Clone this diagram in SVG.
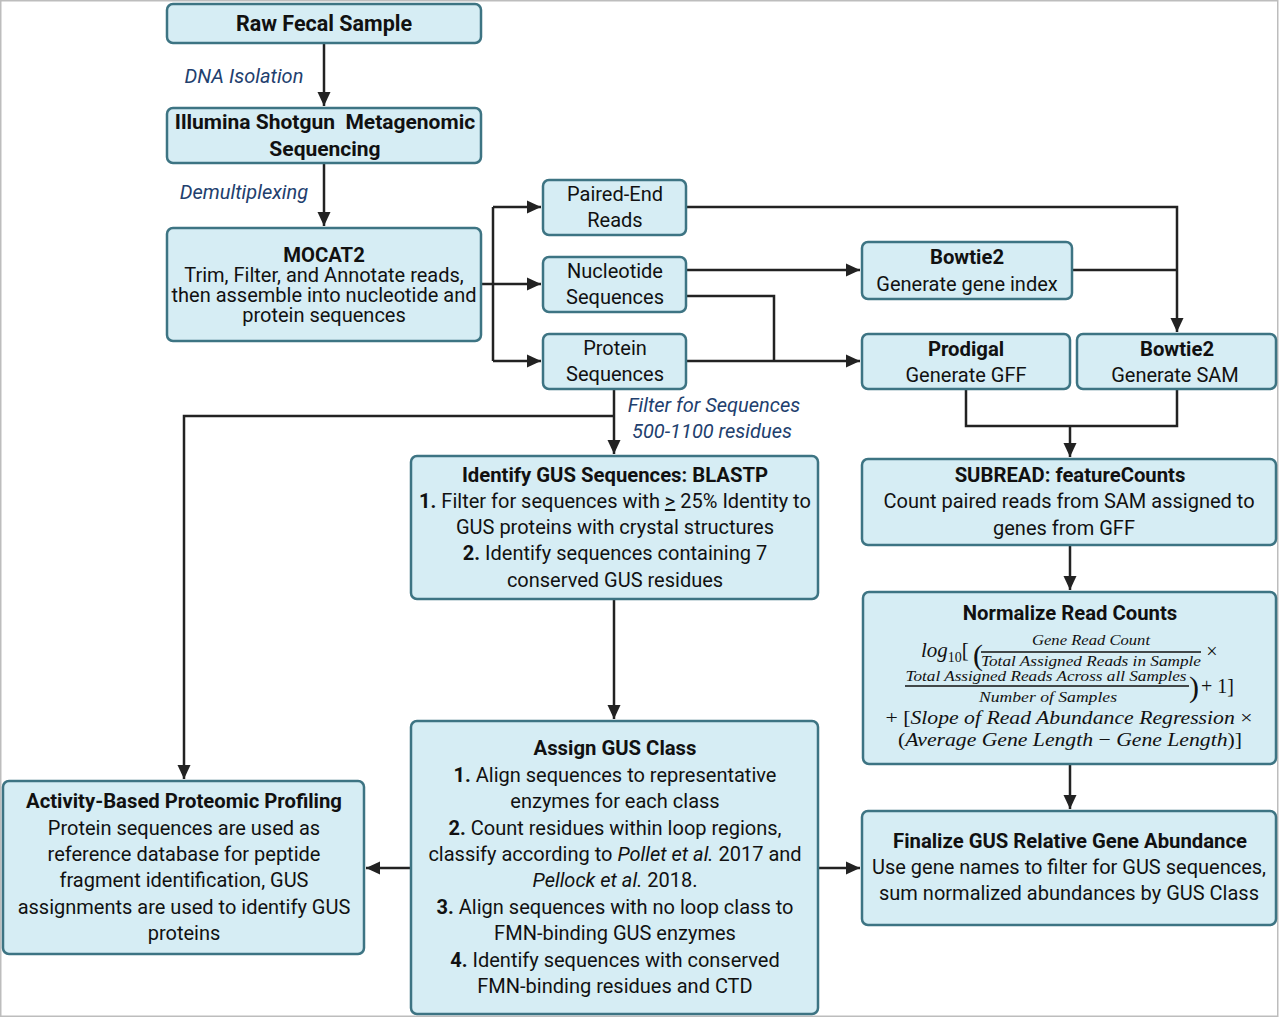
<svg xmlns="http://www.w3.org/2000/svg" width="1280" height="1018" viewBox="0 0 1280 1018">
<defs>
<marker id="ah" markerUnits="userSpaceOnUse" markerWidth="14" markerHeight="14" viewBox="0 0 14 14" refX="14" refY="7" orient="auto">
<path d="M0,0.5 L14,7 L0,13.5 z" fill="#222"/>
</marker>
<style>
.box{fill:#d6edf4;stroke:#3d7483;stroke-width:2.5}
.t{font-family:Roboto,"Liberation Sans",sans-serif;font-size:20px;fill:#111;text-anchor:middle}
.b{font-weight:bold}
.h{font-weight:bold;font-size:20.3px}
.h2{font-weight:bold;font-size:21px}
.lbl{font-family:Roboto,"Liberation Sans",sans-serif;font-size:20px;font-style:italic;fill:#22406e;text-anchor:middle}
.m{font-family:"Liberation Serif","DejaVu Serif",serif;fill:#111}
.i{font-style:italic}
.mid{text-anchor:middle}
.st{text-anchor:start}
.c{fill:none;stroke:#222;stroke-width:2.5}
</style>
</defs>
<rect x="0" y="0" width="1280" height="1018" fill="#fff"/>
<rect x="0.75" y="0.75" width="1277" height="1015.5" fill="none" stroke="#bdbdbd" stroke-width="1.5"/>

<g id="connectors">
<path class="c" d="M324,43 V106" marker-end="url(#ah)"/>
<path class="c" d="M324,163 V226" marker-end="url(#ah)"/>
<path class="c" d="M481,284 H493"/>
<path class="c" d="M493,207 V361"/>
<path class="c" d="M493,207 H541" marker-end="url(#ah)"/>
<path class="c" d="M493,284 H541" marker-end="url(#ah)"/>
<path class="c" d="M493,361 H541" marker-end="url(#ah)"/>
<path class="c" d="M686,207 H1177 V332" marker-end="url(#ah)"/>
<path class="c" d="M686,270 H860" marker-end="url(#ah)"/>
<path class="c" d="M686,296 H774 V361"/>
<path class="c" d="M686,361 H860" marker-end="url(#ah)"/>
<path class="c" d="M1072,270 H1177"/>
<path class="c" d="M966,389 V426 H1177 V389"/>
<path class="c" d="M1070,426 V457" marker-end="url(#ah)"/>
<path class="c" d="M614,389 V454" marker-end="url(#ah)"/>
<path class="c" d="M614,416 H184 V779" marker-end="url(#ah)"/>
<path class="c" d="M614,599 V719" marker-end="url(#ah)"/>
<path class="c" d="M411,868 H366" marker-end="url(#ah)"/>
<path class="c" d="M818,868 H860" marker-end="url(#ah)"/>
<path class="c" d="M1070,545 V590" marker-end="url(#ah)"/>
<path class="c" d="M1070,764 V809" marker-end="url(#ah)"/>
<text class="lbl" x="244" y="83">DNA Isolation</text>
<text class="lbl" x="244" y="199">Demultiplexing</text>
<text class="lbl" x="714" y="412">Filter for Sequences</text>
<text class="lbl" x="712" y="438">500-1100 residues</text>
</g>

<g id="raw">
<rect class="box" x="167" y="4" width="314" height="39" rx="6"/>
<text class="t h2" x="324" y="31" style="font-size:21.5px">Raw Fecal Sample</text>
</g>

<g id="illumina">
<rect class="box" x="167" y="108" width="314" height="55" rx="6"/>
<text class="t h2" x="325" y="129" xml:space="preserve">Illumina Shotgun  Metagenomic</text>
<text class="t h2" x="325" y="156">Sequencing</text>
</g>

<g id="mocat2">
<rect class="box" x="167" y="228" width="314" height="113" rx="6"/>
<text class="t h" x="324" y="262">MOCAT2</text>
<text class="t" x="324" y="282">Trim, Filter, and Annotate reads,</text>
<text class="t" x="324" y="302">then assemble into nucleotide and</text>
<text class="t" x="324" y="322">protein sequences</text>
</g>

<g id="paired">
<rect class="box" x="543" y="180" width="143" height="55" rx="6"/>
<text class="t" x="615" y="201">Paired-End</text>
<text class="t" x="615" y="227">Reads</text>
</g>

<g id="nucleotide">
<rect class="box" x="543" y="257" width="143" height="55" rx="6"/>
<text class="t" x="615" y="278">Nucleotide</text>
<text class="t" x="615" y="304">Sequences</text>
</g>

<g id="protein">
<rect class="box" x="543" y="334" width="143" height="55" rx="6"/>
<text class="t" x="615" y="355">Protein</text>
<text class="t" x="615" y="381">Sequences</text>
</g>

<g id="bowtie-index">
<rect class="box" x="862" y="242" width="210" height="57" rx="6"/>
<text class="t h" x="967" y="264">Bowtie2</text>
<text class="t" x="967" y="291">Generate gene index</text>
</g>

<g id="prodigal">
<rect class="box" x="862" y="334" width="208" height="55" rx="6"/>
<text class="t h" x="966" y="356">Prodigal</text>
<text class="t" x="966" y="382">Generate GFF</text>
</g>

<g id="bowtie-sam">
<rect class="box" x="1077" y="334" width="199" height="55" rx="6"/>
<text class="t h" x="1177" y="356">Bowtie2</text>
<text class="t" x="1175" y="382">Generate SAM</text>
</g>

<g id="subread">
<rect class="box" x="862" y="459" width="414" height="86" rx="6"/>
<text class="t h" x="1070" y="482">SUBREAD: featureCounts</text>
<text class="t" x="1069" y="508">Count paired reads from SAM assigned to</text>
<text class="t" x="1064" y="535">genes from GFF</text>
</g>

<g id="normalize">
<rect class="box" x="863" y="592" width="413" height="172" rx="6"/>
<text class="t h" x="1070" y="620">Normalize Read Counts</text>
<text class="m st" x="921" y="657" style="font-size:21px"><tspan class="i">log</tspan><tspan style="font-size:14px" dy="5">10</tspan><tspan dy="-5">[</tspan></text>
<text class="m st" x="973" y="665" style="font-size:30px">(</text>
<text class="m i mid" x="1091" y="645" style="font-size:15px" textLength="118" lengthAdjust="spacingAndGlyphs">Gene Read Count</text>
<line x1="981" y1="652" x2="1201" y2="652" stroke="#111" stroke-width="1.5"/>
<text class="m i mid" x="1091" y="666" style="font-size:15px" textLength="220" lengthAdjust="spacingAndGlyphs">Total Assigned Reads in Sample</text>
<text class="m mid" x="1212" y="658" style="font-size:20px">×</text>
<text class="m i mid" x="1046" y="681" style="font-size:15px" textLength="281" lengthAdjust="spacingAndGlyphs">Total Assigned Reads Across all Samples</text>
<line x1="905" y1="686" x2="1189" y2="686" stroke="#111" stroke-width="1.5"/>
<text class="m i mid" x="1048" y="702" style="font-size:15px" textLength="138" lengthAdjust="spacingAndGlyphs">Number of Samples</text>
<text class="m st" x="1189" y="697" style="font-size:30px">)</text>
<text class="m st" x="1201" y="693" style="font-size:20px">+ 1]</text>
<text class="m i mid" x="1069" y="724" style="font-size:19px" textLength="367" lengthAdjust="spacingAndGlyphs"><tspan style="font-style:normal">+ [</tspan>Slope of Read Abundance Regression <tspan style="font-style:normal">×</tspan></text>
<text class="m i mid" x="1070" y="746" style="font-size:19px" textLength="344" lengthAdjust="spacingAndGlyphs"><tspan style="font-style:normal">(</tspan>Average Gene Length <tspan style="font-style:normal">−</tspan> Gene Length<tspan style="font-style:normal">)]</tspan></text>
</g>

<g id="finalize">
<rect class="box" x="862" y="811" width="414" height="114" rx="6"/>
<text class="t h" x="1070" y="848">Finalize GUS Relative Gene Abundance</text>
<text class="t" x="1069" y="874">Use gene names to filter for GUS sequences,</text>
<text class="t" x="1069" y="900">sum normalized abundances by GUS Class</text>
</g>

<g id="identify">
<rect class="box" x="411" y="456" width="407" height="143" rx="6"/>
<text class="t h" x="615" y="482">Identify GUS Sequences: BLASTP</text>
<text class="t" x="615" y="508"><tspan class="b">1.</tspan> Filter for sequences with <tspan text-decoration="underline">&gt;</tspan> 25% Identity to</text>
<text class="t" x="615" y="534">GUS proteins with crystal structures</text>
<text class="t" x="615" y="560"><tspan class="b">2.</tspan> Identify sequences containing 7</text>
<text class="t" x="615" y="587">conserved GUS residues</text>
</g>

<g id="assign">
<rect class="box" x="411" y="721" width="407" height="293" rx="6"/>
<text class="t h" x="615" y="755">Assign GUS Class</text>
<text class="t" x="615" y="782"><tspan class="b">1.</tspan> Align sequences to representative</text>
<text class="t" x="615" y="808">enzymes for each class</text>
<text class="t" x="615" y="835"><tspan class="b">2.</tspan> Count residues within loop regions,</text>
<text class="t" x="615" y="861">classify according to <tspan font-style="italic">Pollet et al.</tspan> 2017 and</text>
<text class="t" x="615" y="887"><tspan font-style="italic">Pellock et al.</tspan> 2018.</text>
<text class="t" x="615" y="914"><tspan class="b">3.</tspan> Align sequences with no loop class to</text>
<text class="t" x="615" y="940">FMN-binding GUS enzymes</text>
<text class="t" x="615" y="967"><tspan class="b">4.</tspan> Identify sequences with conserved</text>
<text class="t" x="615" y="993">FMN-binding residues and CTD</text>
</g>

<g id="abpp">
<rect class="box" x="3" y="781" width="361" height="173" rx="6"/>
<text class="t h" x="184" y="808">Activity-Based Proteomic Profiling</text>
<text class="t" x="184" y="835">Protein sequences are used as</text>
<text class="t" x="184" y="861">reference database for peptide</text>
<text class="t" x="184" y="887">fragment identification, GUS</text>
<text class="t" x="184" y="914">assignments are used to identify GUS</text>
<text class="t" x="184" y="940">proteins</text>
</g>
</svg>
